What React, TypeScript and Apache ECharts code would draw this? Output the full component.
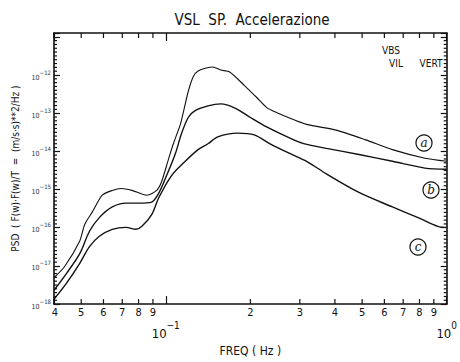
import React, { useEffect, useRef } from "react";
import * as echarts from "echarts";

// Frequencies (Hz) and PSD values
const freqA = [0.04, 0.0437, 0.0494, 0.0514, 0.0548, 0.0594, 0.0645, 0.0693, 0.0758, 0.0856, 0.0928, 0.0966, 0.1022, 0.1064, 0.1127, 0.1154, 0.1202, 0.1251, 0.1303, 0.1471, 0.157, 0.1688, 0.1906, 0.2117, 0.2295, 0.2488, 0.2633, 0.3172, 0.404, 0.515, 0.641, 0.837, 1.0];
const psdA = [4.9e-18, 9.8e-18, 4.5e-17, 1.2e-16, 2.6e-16, 7.1e-16, 9.5e-16, 1.07e-15, 9.5e-16, 7.1e-16, 9.5e-16, 1.6e-15, 6.2e-15, 1.58e-14, 5.1e-14, 1.03e-13, 3.7e-13, 8.9e-13, 1.28e-12, 1.62e-12, 1.35e-12, 1.2e-12, 5.3e-13, 2.5e-13, 1.38e-13, 1.03e-13, 8.6e-14, 5.1e-14, 3.6e-14, 2.0e-14, 1.11e-14, 6.6e-15, 5.5e-15];

const freqB = [0.04, 0.0444, 0.0494, 0.0535, 0.058, 0.0645, 0.0722, 0.0802, 0.0891, 0.0943, 0.1006, 0.1082, 0.1136, 0.1202, 0.1272, 0.1413, 0.157, 0.1758, 0.2, 0.2295, 0.2855, 0.3096, 0.373, 0.487, 0.641, 0.837, 1.0];
const psdB = [2.3e-18, 6.5e-18, 2.1e-17, 8.1e-17, 1.84e-16, 3.5e-16, 4.4e-16, 4.4e-16, 4.7e-16, 7.9e-16, 2.29e-15, 8.8e-15, 2.84e-14, 7.7e-14, 1.16e-13, 1.55e-13, 1.75e-13, 1.38e-13, 7.7e-14, 4.3e-14, 2.0e-14, 1.6e-14, 1.2e-14, 8.3e-15, 5.5e-15, 3.65e-15, 3.4e-15];

const freqC = [0.04, 0.0444, 0.0494, 0.0535, 0.058, 0.0645, 0.0722, 0.0783, 0.0822, 0.0891, 0.0943, 0.1047, 0.1173, 0.1303, 0.1413, 0.1532, 0.18, 0.2066, 0.2351, 0.2764, 0.3172, 0.373, 0.487, 0.641, 0.791, 0.93, 1.0];
const psdC = [1.34e-18, 3.6e-18, 1.17e-17, 3.2e-17, 6.0e-17, 9.1e-17, 1.02e-16, 9.1e-17, 1.09e-16, 2.2e-16, 6.0e-16, 2.29e-15, 5.5e-15, 1.11e-14, 1.58e-14, 2.4e-14, 3.0e-14, 2.7e-14, 1.58e-14, 8.8e-15, 5.5e-15, 2.57e-15, 8.4e-16, 3.5e-16, 1.84e-16, 1.09e-16, 1.02e-16];

// Axis ticks
const xTickValues = [0.04, 0.05, 0.06, 0.07, 0.08, 0.09, 0.1, 0.2, 0.3, 0.4, 0.5, 0.6, 0.7, 0.8, 0.9, 1.0];
const xTickLabels = ["4", "5", "6", "7", "8", "9", "", "2", "3", "4", "5", "6", "7", "8", "9", ""];
const xMajorTicks = [0.1, 1.0];
const yDecades = [-18, -17, -16, -15, -14, -13, -12, -11];
const yMinorPerDecade = 10;
const X_MIN = 0.04;
const X_MAX = 1.0;
const Y_MIN = 1e-18;
const Y_MAX_EXP = -10.9;
const Y_MAX = Math.pow(10, Y_MAX_EXP);

const FONT = "'Liberation Sans Narrow', 'DejaVu Sans Condensed', 'Noto Sans', sans-serif";
const INK = "#111111";

export default function App() {
  const ref = useRef<HTMLDivElement>(null);
  useEffect(() => {
    if (!ref.current) return;
    const chart = echarts.init(ref.current, null, { renderer: "svg" });
    const toPairs = (xs: number[], ys: number[]) => xs.map((x, i) => [x, ys[i]]);

    const yMinorVals: number[] = [];
    yDecades.forEach((d) => {
      for (let k = 1; k < yMinorPerDecade; k++) {
        const e = d + k / yMinorPerDecade;
        if (e < Y_MAX_EXP - 1e-9) yMinorVals.push(Math.pow(10, e));
      }
    });
    const xMinorVals = xTickValues.filter((v) => xMajorTicks.indexOf(v) < 0);

    const tickSeries = (data: number[][], size: number[], offset: number[]) => ({
      type: "scatter",
      data,
      symbol: "rect",
      symbolSize: size,
      symbolOffset: offset,
      itemStyle: { color: INK, opacity: 1 },
      silent: true,
      clip: false,
      z: 4,
      emphasis: { disabled: true },
    });

    const nativeTick = (len: number) => ({ show: true, inside: true, length: len, lineStyle: { color: INK, width: 1.2 } });

    const option: any = {
      animation: false,
      backgroundColor: "#ffffff",
      grid: { left: 54, right: 8, top: 33, bottom: 50 },
      xAxis: [
        {
          type: "log",
          logBase: 10,
          min: X_MIN,
          max: X_MAX,
          position: "bottom",
          axisLine: { show: true, onZero: false, lineStyle: { color: INK, width: 1.6 } },
          axisTick: nativeTick(8),
          splitLine: { show: false },
          axisLabel: {
            show: true,
            margin: 16,
            color: INK,
            fontFamily: FONT,
            formatter: (v: number) => {
              if (Math.abs(v - 0.1) < 1e-9) return "{b|10}{s|−1}";
              if (Math.abs(v - 1) < 1e-9) return "{b|10}{s|0}";
              return "";
            },
            rich: {
              b: { fontSize: 13, lineHeight: 20, verticalAlign: "bottom", fontFamily: FONT, color: INK },
              s: { fontSize: 10, lineHeight: 10, verticalAlign: "top", fontFamily: FONT, color: INK },
            },
          },
          name: "FREQ ( Hz )",
          nameLocation: "middle",
          nameGap: 38,
          nameTextStyle: { fontFamily: FONT, fontSize: 12, color: INK },
        },
        {
          type: "log",
          logBase: 10,
          min: X_MIN,
          max: X_MAX,
          position: "top",
          axisLine: { show: true, onZero: false, lineStyle: { color: INK, width: 1.6 } },
          axisTick: nativeTick(8),
          axisLabel: { show: false },
          splitLine: { show: false },
        },
      ],
      yAxis: [
        {
          type: "log",
          logBase: 10,
          min: Y_MIN,
          max: Y_MAX,
          position: "left",
          axisLine: { show: true, onZero: false, lineStyle: { color: INK, width: 1.6 } },
          axisTick: nativeTick(6),
          splitLine: { show: false },
          axisLabel: {
            show: true,
            margin: 3,
            color: INK,
            formatter: (v: number) => {
              const e = Math.log10(v);
              const r = Math.round(e);
              if (Math.abs(e - r) > 1e-6 || r > -12) return "";
              return "{b|10}{s|−" + (-r) + "}";
            },
            rich: {
              b: { fontSize: 7, lineHeight: 12, verticalAlign: "bottom", fontFamily: FONT, color: "#333" },
              s: { fontSize: 6, lineHeight: 7, verticalAlign: "top", fontFamily: FONT, color: "#333" },
            },
          },
          name: "PSD  ( F(w)·F(w)/T  =  (m/s·s)**2/Hz )",
          nameLocation: "middle",
          nameGap: 30,
          nameRotate: 90,
          nameTextStyle: { fontFamily: FONT, fontSize: 10, color: INK },
        },
        {
          type: "log",
          logBase: 10,
          min: Y_MIN,
          max: Y_MAX,
          position: "right",
          axisLine: { show: true, onZero: false, lineStyle: { color: INK, width: 1.6 } },
          axisTick: nativeTick(6),
          axisLabel: { show: false },
          splitLine: { show: false },
        },
      ],
      graphic: [
        {
          type: "text",
          x: 252,
          y: 20,
          style: { text: "VSL  SP.  Accelerazione", font: "15px " + FONT, fill: INK, align: "center", verticalAlign: "middle" },
        },
        { type: "text", x: 391, y: 50, style: { text: "VBS", font: "10px " + FONT, fill: INK, align: "center", verticalAlign: "middle" } },
        { type: "text", x: 396, y: 63, style: { text: "VIL", font: "10px " + FONT, fill: INK, align: "center", verticalAlign: "middle" } },
        { type: "text", x: 431, y: 63, style: { text: "VERT", font: "10px " + FONT, fill: INK, align: "center", verticalAlign: "middle" } },
        { type: "circle", shape: { cx: 424, cy: 143, r: 8 }, style: { fill: "none", stroke: INK, lineWidth: 1.2 } },
        { type: "text", x: 424, y: 143, style: { text: "a", font: "italic 12px 'DejaVu Serif', serif", fill: INK, align: "center", verticalAlign: "middle" } },
        { type: "circle", shape: { cx: 431, cy: 190, r: 8 }, style: { fill: "none", stroke: INK, lineWidth: 1.2 } },
        { type: "text", x: 431, y: 190, style: { text: "b", font: "italic 12px 'DejaVu Serif', serif", fill: INK, align: "center", verticalAlign: "middle" } },
        { type: "circle", shape: { cx: 418, cy: 247, r: 8 }, style: { fill: "none", stroke: INK, lineWidth: 1.2 } },
        { type: "text", x: 418, y: 247, style: { text: "c", font: "italic 12px 'DejaVu Serif', serif", fill: INK, align: "center", verticalAlign: "middle" } },
      ],
      series: [
        {
          type: "line",
          name: "a",
          data: toPairs(freqA, psdA),
          showSymbol: false,
          smooth: 0.25,
          lineStyle: { color: INK, width: 1.1 },
          silent: true,
        },
        {
          type: "line",
          name: "b",
          data: toPairs(freqB, psdB),
          showSymbol: false,
          smooth: 0.3,
          lineStyle: { color: INK, width: 1.4 },
          silent: true,
        },
        {
          type: "line",
          name: "c",
          data: toPairs(freqC, psdC),
          showSymbol: false,
          smooth: 0.3,
          lineStyle: { color: INK, width: 1.4 },
          silent: true,
        },
        tickSeries(yMinorVals.map((v) => [X_MIN, v]), [3, 1.2], [1.5, 0]),
        tickSeries(yMinorVals.map((v) => [X_MAX, v]), [3, 1.2], [-1.5, 0]),
        tickSeries(xMinorVals.map((v) => [v, Y_MIN]), [1.2, 5], [0, -2.5]),
        tickSeries(xMinorVals.map((v) => [v, Y_MAX]), [1.2, 5], [0, 2.5]),
        {
          type: "custom",
          name: "xtickLabels",
          silent: true,
          clip: false,
          data: xTickValues.map((v) => [v, Y_MIN]),
          renderItem: (params: any, api: any) => {
            const v = api.value(0);
            const idx = params.dataIndex;
            const b = api.coord([v, Y_MIN]);
            return {
              type: "text",
              style: {
                text: xTickLabels[idx],
                x: b[0] + (idx === 0 ? 1 : 0),
                y: b[1] + 3,
                align: "center",
                verticalAlign: "top",
                textAlign: "center",
                textVerticalAlign: "top",
                font: "11px " + FONT,
                fill: INK,
              },
            };
          },
        },
      ],
    };
    chart.setOption(option);
    return () => chart.dispose();
  }, []);
  return <div ref={ref} style={{ position: "fixed", left: 0, top: 0, width: 460, height: 362, background: "#fff" }} />;
}
